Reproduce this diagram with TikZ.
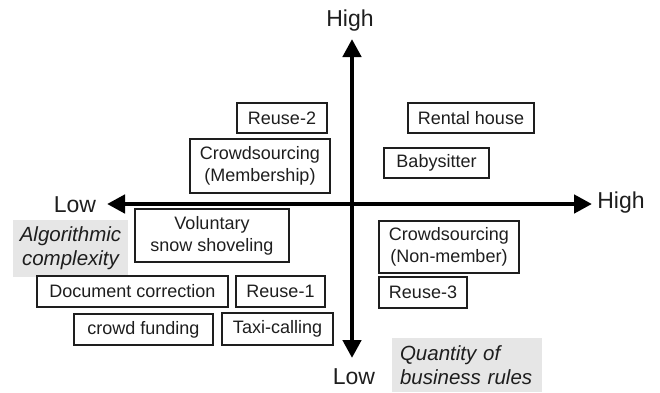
\documentclass[tikz,border=0pt]{standalone}
\usepackage{fontspec}
\setmainfont{Liberation Sans}
\usetikzlibrary{arrows.meta}
\definecolor{ink}{HTML}{1E1E1E}
\definecolor{pale}{HTML}{E6E6E6}
\tikzset{
  item/.style={draw=ink, line width=1.6pt, inner sep=0pt, align=center, text=ink,
    font=\fontsize{18}{22}\selectfont},
  note/.style={fill=pale, inner sep=0pt, text=ink, font=\fontsize{20.5}{24}\selectfont\itshape},
  axislabel/.style={text=ink, inner sep=0pt, font=\fontsize{23}{27}\selectfont},
  axisline/.style={draw=black, line width=4.5pt, {Triangle[width=18pt,length=18pt]}-{Triangle[width=18pt,length=18pt]}}
}
\begin{document}
\begin{tikzpicture}[x=1pt,y=-1pt]
\useasboundingbox (0,0) rectangle (660,392);
% grey notes
\node[note, minimum width=115pt, minimum height=57pt, align=center] (algo) at (70.5,248.5) {Algorithmic\\complexity};
\node[note, minimum width=150pt, minimum height=54pt, align=left, text width=134pt] (quant) at (467,365) {Quantity of\\business rules};
% axes
\coordinate (L) at (107,204);
\coordinate (R) at (592,204);
\coordinate (T) at (352,39);
\coordinate (B) at (352,358);
\draw[axisline] (L) -- (R);
\draw[axisline] (B) -- (T);
% axis labels
\node[axislabel] (hightop) at (350,21) {High};
\node[axislabel] (lowleft) at (75,205) {Low};
\node[axislabel] (highright) at (621,203) {High};
\node[axislabel] (lowbottom) at (354,377) {Low};
% boxes
\node[item, minimum width=90pt, minimum height=30pt] (reuse2) at (282,118) {Reuse-2};
\node[item, minimum width=140pt, minimum height=54pt] (crowdmem) at (260,166) {Crowdsourcing\\(Membership)};
\node[item, minimum width=126pt, minimum height=30pt] (rental) at (471,118) {Rental house};
\node[item, minimum width=105pt, minimum height=30pt] (baby) at (436.5,163) {Babysitter};
\node[item, minimum width=154pt, minimum height=53pt] (snow) at (212,235.5) {Voluntary\\snow shoveling};
\node[item, minimum width=191pt, minimum height=31pt] (doc) at (132.5,291.5) {Document correction};
\node[item, minimum width=89pt, minimum height=31pt] (reuse1) at (280.5,291.5) {Reuse-1};
\node[item, minimum width=139pt, minimum height=31pt] (fund) at (143.5,329.5) {crowd funding};
\node[item, minimum width=111pt, minimum height=32pt] (taxi) at (277.5,329) {Taxi-calling};
\node[item, minimum width=140pt, minimum height=52pt] (crowdnon) at (449,247) {Crowdsourcing\\(Non-member)};
\node[item, minimum width=88pt, minimum height=31pt] (reuse3) at (423,292.5) {Reuse-3};
\end{tikzpicture}
\end{document}
